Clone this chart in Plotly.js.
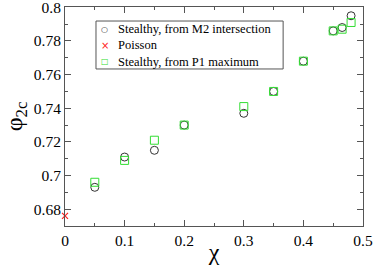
<!DOCTYPE html>
<html><head><meta charset="utf-8">
<script src="https://cdn.plot.ly/plotly-3.0.1.min.js"></script>
<style>body{margin:0;padding:0;background:#fff}#chart{width:374px;height:265px}</style>
</head><body><div id="chart"></div>
<script>
var chiM2 = [0.05, 0.1, 0.15, 0.2, 0.3, 0.35, 0.4, 0.45, 0.465, 0.48];
var phiM2 = [0.693, 0.711, 0.715, 0.730, 0.737, 0.750, 0.768, 0.786, 0.788, 0.795];
var chiPoisson = [0];
var phiPoisson = [0.676];
var chiP1 = [0.05, 0.1, 0.15, 0.2, 0.3, 0.35, 0.4, 0.45, 0.465, 0.48];
var phiP1 = [0.696, 0.709, 0.721, 0.730, 0.741, 0.750, 0.768, 0.786, 0.787, 0.791];
var names = ["Stealthy, from M2 intersection", "Poisson", "Stealthy, from P1 maximum"];
var legendGlyphs = ["○", "×", "□"];
var colors = ["#333333", "#ff2020", "#33dd33"];

var serif = "Liberation Serif, Tinos, Times, Nimbus Roman, DejaVu Serif";
var traces = [
  {x: chiM2, y: phiM2, name: names[0], mode: 'markers', type: 'scatter', cliponaxis: false,
   marker: {symbol: 'circle-open', size: 8, color: colors[0], line: {width: 1}}},
  {x: chiPoisson, y: phiPoisson, name: names[1], mode: 'markers', type: 'scatter', cliponaxis: false,
   marker: {symbol: 'x-thin-open', size: 6, color: colors[1], line: {width: 1.2}}},
  {x: chiP1, y: phiP1, name: names[2], mode: 'markers', type: 'scatter', cliponaxis: false,
   marker: {symbol: 'square-open', size: 8, color: colors[2], line: {width: 1}}}
];

// manual legend (box + glyphs + one multi-line label block), in paper coordinates
var rowY = [0.8995, 0.825, 0.751];
var annotations = [];
for (var i = 0; i < names.length; i++) {
  annotations.push({xref: 'paper', yref: 'paper', x: 0.134, y: rowY[i], xanchor: 'center', yanchor: 'middle',
    text: legendGlyphs[i], showarrow: false, borderpad: 0,
    font: {family: 'DejaVu Sans', size: i === 1 ? 10 : 8, color: colors[i]}});
}
annotations.push({xref: 'paper', yref: 'paper', x: 0.176, y: rowY[1], xanchor: 'left', yanchor: 'middle',
  text: names.join('<br>'), align: 'left', showarrow: false, borderpad: 0,
  font: {family: serif, size: 12.5, color: '#000'}});
var shapes = [{type: 'rect', xref: 'paper', yref: 'paper', x0: 0.104, x1: 0.732, y0: 0.717, y1: 0.936,
  line: {color: '#555', width: 1}, fillcolor: '#fff', layer: 'below'}];

var axFont = {family: serif, size: 15.5, color: '#000'};
var layout = {
  width: 374, height: 265,
  font: {family: serif},
  margin: {l: 65, r: 11, t: 7, b: 39},
  paper_bgcolor: '#fff', plot_bgcolor: '#fff',
  showlegend: false,
  annotations: annotations,
  shapes: shapes,
  xaxis: {range: [0, 0.5], dtick: 0.1, tick0: 0, ticks: 'inside', ticklen: 6, tickwidth: 1,
    tickcolor: '#555', showline: true, linecolor: '#555', linewidth: 1, mirror: 'ticks',
    showgrid: false, zeroline: false, tickfont: axFont, ticklabeloverflow: 'allow',
    minor: {dtick: 0.05, ticks: 'inside', ticklen: 3, tickcolor: '#555', showgrid: false},
    title: {text: 'χ', font: {family: serif, size: 24, color: '#000'}, standoff: 0}},
  yaxis: {range: [0.67, 0.8002], dtick: 0.02, tick0: 0, ticks: 'inside', ticklen: 6, tickwidth: 1,
    tickcolor: '#555', showline: true, linecolor: '#555', linewidth: 1, mirror: 'ticks',
    showgrid: false, zeroline: false, tickfont: axFont, ticklabeloverflow: 'allow',
    minor: {dtick: 0.01, ticks: 'inside', ticklen: 3, tickcolor: '#555', showgrid: false},
    title: {text: 'φ<sub>2c</sub>', font: {family: serif, size: 24, color: '#000'}, standoff: 4}}
};
Plotly.newPlot('chart', traces, layout, {displayModeBar: false, staticPlot: true});
</script></body></html>
